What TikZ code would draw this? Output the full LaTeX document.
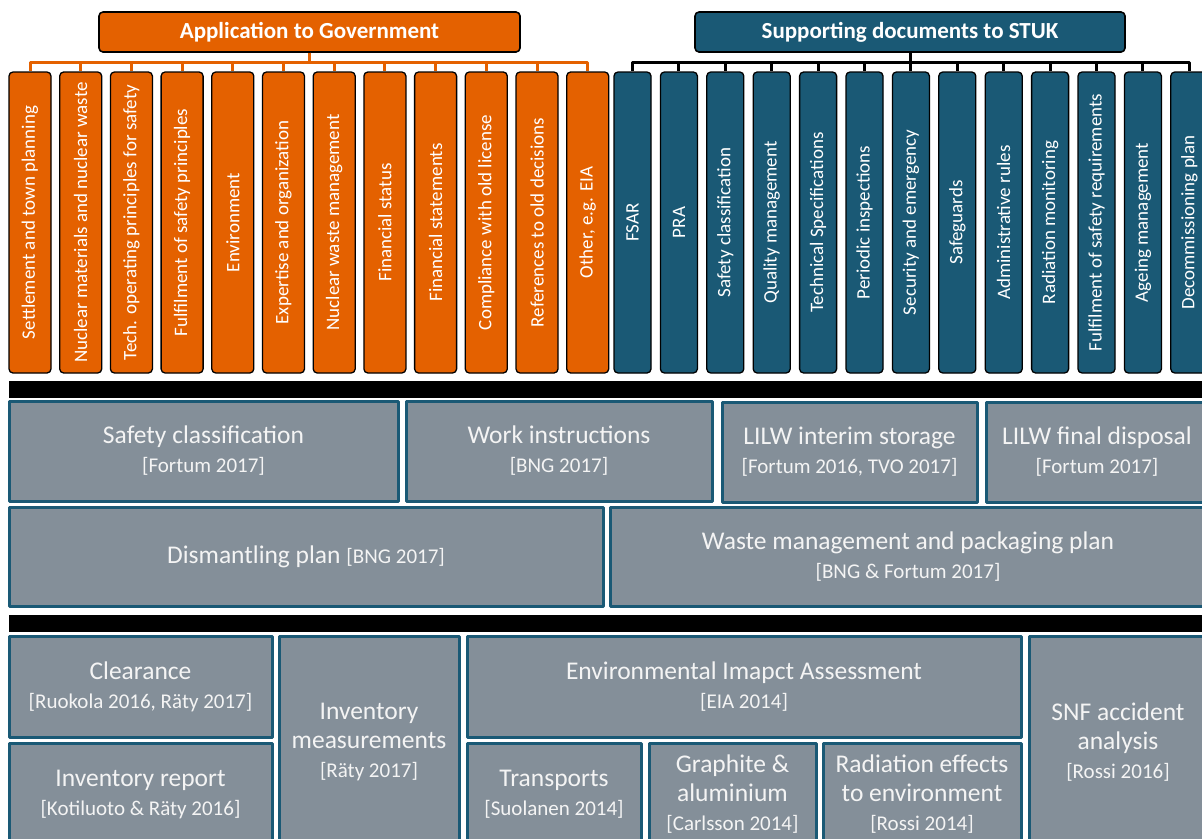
\documentclass[tikz,border=0pt]{standalone}
\usepackage{fontspec}
\setmainfont{Carlito}
\usetikzlibrary{positioning}

\definecolor{appOrange}{RGB}{228,97,0}
\definecolor{stukBlue}{RGB}{26,89,117}
\definecolor{reportGrey}{RGB}{132,143,153}
\definecolor{reportText}{RGB}{244,244,244}

\newcommand{\refcite}[1]{{\fontsize{21}{29}\selectfont #1}}

\begin{document}
\begin{tikzpicture}[x=1pt, y=-1pt, node distance=7.4pt, line join=round]
    \tikzstyle{header}=[draw=black, line width=1.6pt, rounded corners=4pt, text=white, inner sep=0pt, minimum height=40pt, font=\bfseries\fontsize{23}{26}\selectfont]
    \tikzstyle{column}=[draw=black, line width=1.3pt, rounded corners=4pt, text=white, inner sep=0pt, minimum height=301pt, font=\fontsize{19}{22}\selectfont]
    \tikzstyle{report}=[draw=stukBlue, line width=3pt, fill=reportGrey, text=reportText, align=center, inner sep=0pt, font=\fontsize{25.5}{29}\selectfont]
    \tikzstyle{tree}=[line width=3pt]

    \clip (0,0) rectangle (1202,838);

    % the two headings
    \node[header, fill=appOrange, minimum width=421pt] (app) at (309.5,32) {Application to Government};
    \node[header, fill=stukBlue, minimum width=430pt] (stuk) at (910,32) {Supporting documents to STUK};

    % orange columns
    \foreach \lbl [count=\i] in {Settlement and town planning, Nuclear materials and nuclear waste,
        Tech. operating principles for safety, Fulfilment of safety principles, Environment,
        Expertise and organization, Nuclear waste management, Financial status, Financial statements,
        Compliance with old license, References to old decisions, {Other, e.g. EIA}}
    {
        \pgfmathtruncatemacro\j{\i-1}
        \ifnum\i=1
            \node[column, fill=appOrange, minimum width=42pt] (o1) at (30,222.5) {\rotatebox{90}{\lbl}};
        \else
            \node[column, fill=appOrange, minimum width=42pt, right=of o\j] (o\i) {\rotatebox{90}{\lbl}};
        \fi
    }

    % blue columns
    \foreach \lbl [count=\i] in {FSAR, PRA, Safety classification, Quality management,
        Technical Specifications, Periodic inspections, Security and emergency, Safeguards,
        Administrative rules, Radiation monitoring, Fulfilment of safety requirements,
        Ageing management, Decommissioning plan}
    {
        \pgfmathtruncatemacro\j{\i-1}
        \ifnum\i=1
            \node[column, fill=stukBlue, minimum width=37pt] (b1) at (632.5,222.5) {\rotatebox{90}{\lbl}};
        \else
            \node[column, fill=stukBlue, minimum width=37pt, right=8.1pt of b\j] (b\i) {\rotatebox{90}{\lbl}};
        \fi
    }

    % tree lines
    \coordinate (rail) at (0,62.5);
    \foreach \i in {1,...,12}
        \draw[tree, appOrange] (app.south) -- (app.south |- rail) -| (o\i.north);
    \foreach \i in {1,...,13}
        \draw[tree, black] (stuk.south) -- (stuk.south |- rail) -| (b\i.north);

    % black bars
    \fill[black] (9,381) rectangle (1210,398);
    \fill[black] (9,615) rectangle (1210,632);

    % reports, first row
    \node[report, minimum width=389pt, minimum height=100pt] (safety) at (203.5,451) {Safety classification\\\refcite{[Fortum 2017]}};
    \node[report, minimum width=306pt, minimum height=100pt] (work) at (559,451) {Work instructions\\\refcite{[BNG 2017]}};
    \node[report, minimum width=255pt, minimum height=100pt] (interim) at (849.5,452) {LILW interim storage\\\refcite{[Fortum 2016, TVO 2017]}};
    \node[report, minimum width=222pt, minimum height=100pt] (final) at (1097,452) {LILW final disposal\\\refcite{[Fortum 2017]}};

    % second row
    \node[report, minimum width=594pt, minimum height=99pt] (dismantle) at (306,556.5) {Dismantling plan \refcite{[BNG 2017]}};
    \node[report, minimum width=596pt, minimum height=99pt] (waste) at (908,556.5) {Waste management and packaging plan\\\refcite{[BNG \& Fortum 2017]}};

    % third row
    \node[report, minimum width=263pt, minimum height=101pt] (clear) at (140.5,686.5) {Clearance\\\refcite{[Ruokola 2016, Räty 2017]}};
    \node[report, minimum width=263pt, minimum height=103pt] (invrep) at (140.5,794.5) {Inventory report\\\refcite{[Kotiluoto \& Räty 2016]}};
    \node[report, minimum width=180pt, minimum height=212pt] (invmeas) at (369,742) {Inventory\\measurements\\\refcite{[Räty 2017]}};
    \node[report, minimum width=554pt, minimum height=101pt] (eia) at (744,686.5) {Environmental Imapct Assessment\\\refcite{[EIA 2014]}};
    \node[report, minimum width=174pt, minimum height=103pt] (transp) at (554,794.5) {Transports\\\refcite{[Suolanen 2014]}};
    \node[report, minimum width=167pt, minimum height=103pt] (graph) at (732.5,794.5) {Graphite \&\\aluminium\\\refcite{[Carlsson 2014]}};
    \node[report, minimum width=198pt, minimum height=103pt] (radeff) at (922,794.5) {Radiation effects\\to environment\\\refcite{[Rossi 2014]}};
    \node[report, minimum width=178pt, minimum height=212pt] (snf) at (1118,742) {SNF accident\\analysis\\\refcite{[Rossi 2016]}};

\end{tikzpicture}
\end{document}
